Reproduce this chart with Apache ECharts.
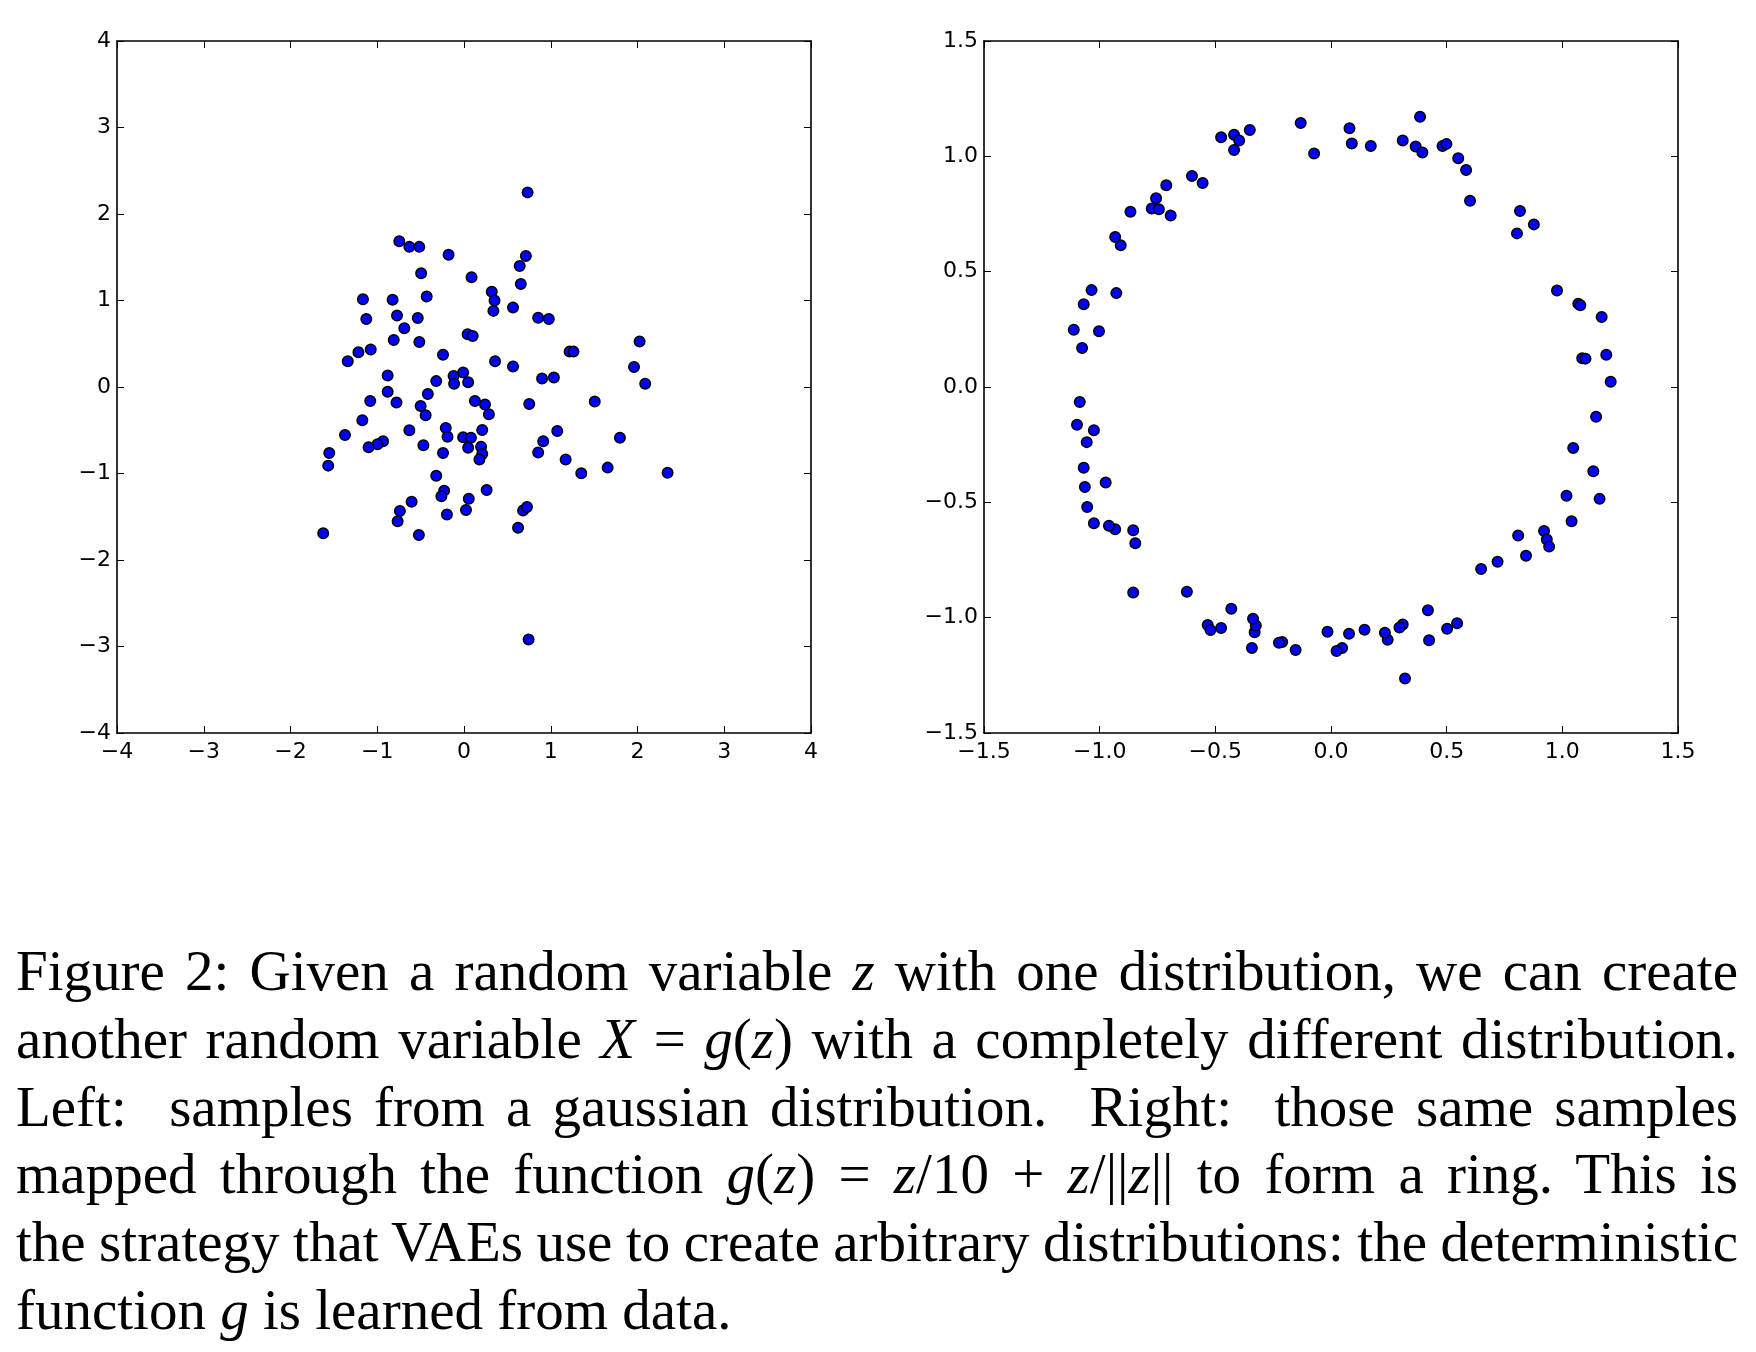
<!DOCTYPE html>
<html>
<head>
<meta charset="utf-8">
<script src="https://cdn.jsdelivr.net/npm/echarts@6/dist/echarts.min.js"></script>
<style>
  html, body { margin: 0; padding: 0; background: #fff; }
  #chart { position: absolute; left: 0; top: 0; width: 1756px; height: 1352px; }
  #caption { position: absolute; left: 16px; top: 937px; width: 1722px;
    font-family: "Liberation Serif", "DejaVu Serif", serif; font-size: 57px; color: #000; }
  #caption .line { height: 67.8px; line-height: 67.8px; white-space: nowrap; }
  #caption .line span { display: inline-block; }
  #caption i { font-style: italic; }
</style>
</head>
<body>
<div id="chart"></div>
<div id="caption">
  <div class="line j"><span>Figure 2: Given a random variable <i>z</i> with one distribution, we can create</span></div>
  <div class="line j"><span>another random variable <i>X</i> = <i>g</i>(<i>z</i>) with a completely different distribution.</span></div>
  <div class="line j"><span>Left:&nbsp; samples from a gaussian distribution.&nbsp; Right:&nbsp; those same samples</span></div>
  <div class="line j"><span>mapped through the function <i>g</i>(<i>z</i>) = <i>z</i>/10 + <i>z</i>/||<i>z</i>|| to form a ring. This is</span></div>
  <div class="line j"><span>the strategy that VAEs use to create arbitrary distributions: the deterministic</span></div>
  <div class="line"><span>function <i>g</i> is learned from data.</span></div>
</div>
<script>
// Left panel: gaussian samples z
const gaussX = [0.733,-0.746,-0.63,-0.515,-0.178,0.713,0.642,-0.494,0.087,0.655,0.32,0.352,0.339,0.565,-1.165,-0.823,-0.43,-0.772,-1.126,-0.533,-0.688,0.855,0.978,0.042,0.10,-0.81,-0.515,2.024,-1.217,-1.075,1.217,1.262,-0.242,-1.34,0.358,0.565,1.96,-0.01,-0.88,-0.12,0.90,1.036,-0.32,-0.114,0.048,2.089,-0.88,-0.417,-1.081,-0.778,-0.50,0.126,0.242,0.752,0.287,-0.442,1.507,-1.172,-0.21,-0.19,0.21,-0.01,0.08,-0.63,-1.372,-0.933,-0.997,-1.10,-0.468,0.048,0.197,0.21,0.178,-0.242,0.913,1.075,0.855,1.797,-1.553,-1.565,1.172,1.352,1.656,2.347,-0.32,-0.229,-0.261,0.261,0.055,-0.604,-0.739,-0.765,-0.197,0.023,0.681,0.726,0.623,-0.52,-1.623,0.745];
const gaussY = [2.25,1.686,1.62,1.62,1.53,1.515,1.40,1.315,1.27,1.19,1.10,1.00,0.88,0.92,1.015,1.01,1.045,0.827,0.786,0.799,0.68,0.80,0.786,0.61,0.59,0.544,0.52,0.527,0.403,0.433,0.409,0.409,0.374,0.297,0.297,0.238,0.232,0.168,0.132,0.127,0.097,0.109,0.068,0.038,0.056,0.038,-0.056,-0.08,-0.162,-0.18,-0.22,-0.162,-0.203,-0.197,-0.315,-0.326,-0.168,-0.385,-0.474,-0.574,-0.497,-0.58,-0.586,-0.50,-0.556,-0.627,-0.662,-0.697,-0.674,-0.703,-0.691,-0.774,-0.838,-0.762,-0.627,-0.509,-0.756,-0.586,-0.762,-0.909,-0.838,-0.997,-0.932,-0.991,-1.027,-1.198,-1.262,-1.192,-1.292,-1.327,-1.433,-1.551,-1.474,-1.421,-1.427,-1.386,-1.627,-1.71,-1.692,-2.918];

// Right panel: ring samples g(z)
const ringX = [-0.131,-0.073,0.08,0.09,0.172,0.31,0.385,0.366,0.395,0.482,0.499,0.55,0.584,0.601,0.817,0.877,0.804,0.977,1.069,1.078,1.17,1.19,1.086,1.10,1.209,1.146,1.047,1.134,1.161,1.018,1.04,0.921,0.933,0.943,0.809,0.843,0.72,0.649,0.545,0.502,0.419,0.424,0.32,0.31,0.296,0.245,0.233,0.145,0.078,0.048,0.024,-0.015,-0.153,-0.211,-0.225,-0.342,-0.33,-0.325,-0.337,-0.431,-0.475,-0.533,-0.521,-0.623,-0.855,-0.846,-0.855,-0.933,-0.96,-1.025,-0.974,-1.054,-1.064,-1.069,-1.056,-1.025,-1.098,-1.086,-1.076,-1.112,-1.003,-1.069,-1.035,-0.928,-0.909,-0.933,-0.867,-0.775,-0.744,-0.756,-0.693,-0.712,-0.601,-0.555,-0.475,-0.419,-0.397,-0.419,-0.351];
const ringY = [1.145,1.012,1.122,1.056,1.045,1.069,1.172,1.043,1.017,1.045,1.054,0.992,0.941,0.807,0.763,0.705,0.666,0.418,0.361,0.354,0.303,0.14,0.125,0.123,0.023,-0.129,-0.264,-0.365,-0.485,-0.471,-0.582,-0.624,-0.661,-0.692,-0.644,-0.732,-0.758,-0.789,-1.024,-1.048,-0.968,-1.098,-1.264,-1.03,-1.043,-1.096,-1.065,-1.052,-1.07,-1.131,-1.145,-1.061,-1.14,-1.105,-1.109,-1.131,-1.063,-1.034,-1.005,-0.961,-1.045,-1.032,-1.054,-0.888,-0.891,-0.677,-0.621,-0.617,-0.602,-0.591,-0.414,-0.52,-0.434,-0.35,-0.239,-0.187,-0.164,-0.065,0.169,0.248,0.242,0.359,0.42,0.407,0.615,0.65,0.76,0.774,0.771,0.818,0.743,0.875,0.915,0.884,1.083,1.094,1.069,1.027,1.114];

// Tick settings
const leftTicks = { min: -4, max: 4, interval: 1 };
const rightTicks = { min: -1.5, max: 1.5, interval: 0.5 };

const gaussData = gaussX.map((x, i) => [x, gaussY[i]]);
const ringData = ringX.map((x, i) => [x, ringY[i]]);

function fmtInt(v) { return (v < 0 ? '\u2212' : '') + Math.abs(v); }
function fmtOne(v) { return (v < 0 ? '\u2212' : '') + Math.abs(v).toFixed(1); }

function axis(kind, grid, pos, ticks, fmt, showLabel) {
  return {
    type: 'value', gridIndex: grid, position: pos,
    min: ticks.min, max: ticks.max, interval: ticks.interval,
    axisLine: { show: true, onZero: false, lineStyle: { color: '#000', width: 1.6 } },
    axisTick: { show: true, inside: true, length: 7, lineStyle: { color: '#000', width: 1 } },
    axisLabel: {
      show: showLabel, formatter: fmt, color: '#000',
      fontFamily: 'DejaVu Sans', fontSize: 22,
      margin: kind === 'x' ? 8 : 6
    },
    splitLine: { show: false }
  };
}

const markerStyle = { color: '#0000ff', borderColor: '#000', borderWidth: 1.5, opacity: 1 };

const chart = echarts.init(document.getElementById('chart'), null, { renderer: 'canvas' });
chart.setOption({
  animation: false,
  backgroundColor: '#fff',
  grid: [
    { left: 117, top: 41, width: 694, height: 692 },
    { left: 984, top: 41, width: 694, height: 692 }
  ],
  xAxis: [
    axis('x', 0, 'bottom', leftTicks, fmtInt, true),
    axis('x', 0, 'top', leftTicks, fmtInt, false),
    axis('x', 1, 'bottom', rightTicks, fmtOne, true),
    axis('x', 1, 'top', rightTicks, fmtOne, false)
  ],
  yAxis: [
    axis('y', 0, 'left', leftTicks, fmtInt, true),
    axis('y', 0, 'right', leftTicks, fmtInt, false),
    axis('y', 1, 'left', rightTicks, fmtOne, true),
    axis('y', 1, 'right', rightTicks, fmtOne, false)
  ],
  series: [
    { type: 'scatter', xAxisIndex: 0, yAxisIndex: 0, data: gaussData, symbol: 'circle', symbolSize: 10.5,
      itemStyle: markerStyle },
    { type: 'scatter', xAxisIndex: 2, yAxisIndex: 2, data: ringData, symbol: 'circle', symbolSize: 10.5,
      itemStyle: markerStyle }
  ]
});

// Justify caption lines by adjusting word spacing
const target = 1722;
document.querySelectorAll('#caption .line.j span').forEach(span => {
  const w = span.getBoundingClientRect().width;
  const spaces = (span.textContent.match(/[ \u00a0]/g) || []).length;
  if (spaces > 0) span.style.wordSpacing = ((target - w) / spaces) + 'px';
});
</script>
</body>
</html>
